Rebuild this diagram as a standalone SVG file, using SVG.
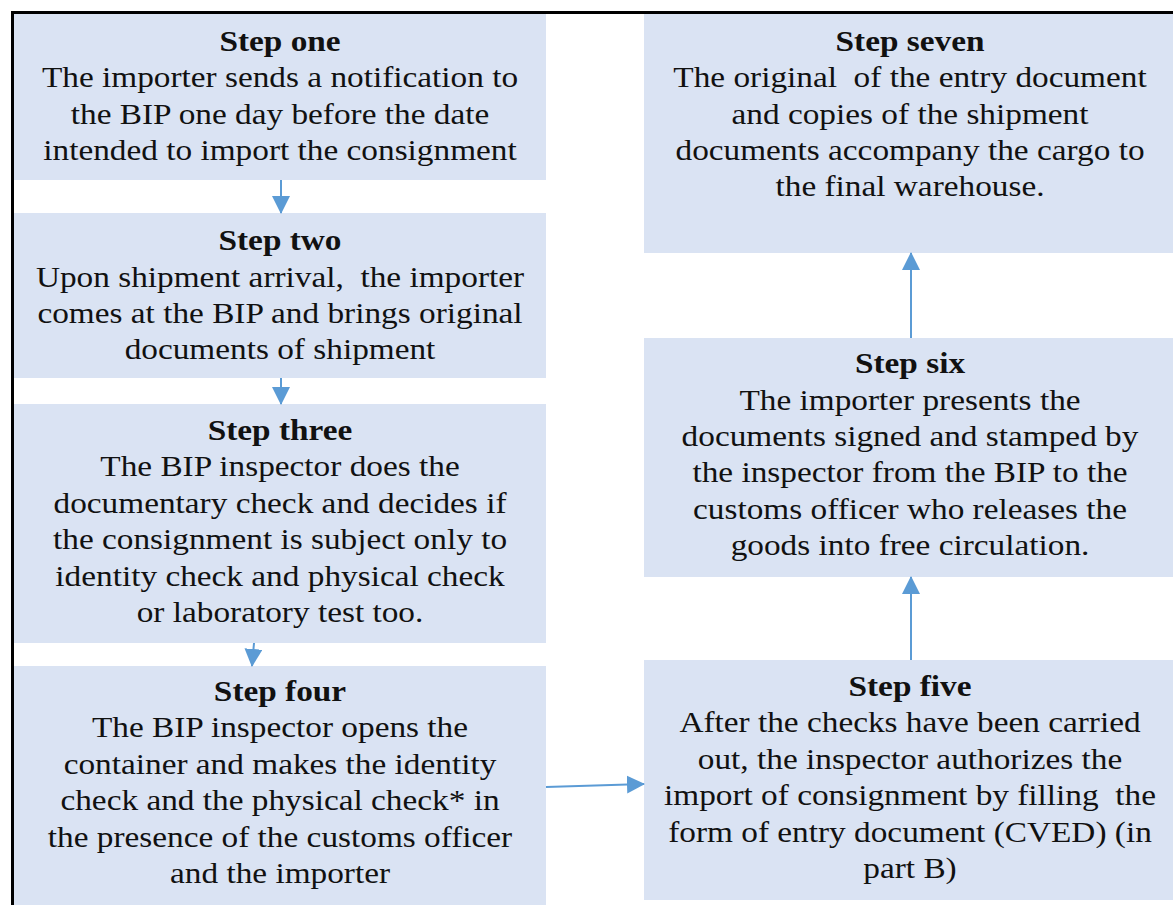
<svg xmlns="http://www.w3.org/2000/svg" width="1173" height="905" viewBox="0 0 1173 905">
<style>
.box{fill:#dae3f3}
text{font-family:"Liberation Serif","Times New Roman",serif;font-size:30px;fill:#111;text-anchor:middle}
.t{font-weight:bold}
.conn line{stroke:#5b9bd5;stroke-width:2}
</style>
<defs>
<marker id="ah" viewBox="0 0 10 10" refX="9" refY="5" markerWidth="5.5" markerHeight="5.5" markerUnits="userSpaceOnUse" orient="auto">
<path d="M0,0 L10,5 L0,10 z" fill="#5b9bd5"/>
</marker>
<marker id="a" viewBox="0 0 18 18" refX="17" refY="9" markerWidth="18" markerHeight="18" markerUnits="userSpaceOnUse" orient="auto">
<path d="M0,0 L18,9 L0,18 z" fill="#5b9bd5"/>
</marker>
</defs>
<rect width="1173" height="905" fill="#fff"/>
<g id="step1">
<rect class="box" x="14" y="14" width="532" height="166"/>
<g transform="translate(280,0) scale(1.11,1)">
<text class="t" x="0" y="51">Step one</text>
<text x="0" y="87">The importer sends a notification to</text>
<text x="0" y="124">the BIP one day before the date</text>
<text x="0" y="160">intended to import the consignment</text>
</g>
</g>
<g id="step2">
<rect class="box" x="14" y="213" width="532" height="165"/>
<g transform="translate(280,0) scale(1.11,1)">
<text class="t" x="0" y="250">Step two</text>
<text x="0" y="287" xml:space="preserve">Upon shipment arrival,  the importer</text>
<text x="0" y="323">comes at the BIP and brings original</text>
<text x="0" y="359">documents of shipment</text>
</g>
</g>
<g id="step3">
<rect class="box" x="14" y="404" width="532" height="239"/>
<g transform="translate(280,0) scale(1.11,1)">
<text class="t" x="0" y="440">Step three</text>
<text x="0" y="476">The BIP inspector does the</text>
<text x="0" y="513">documentary check and decides if</text>
<text x="0" y="549">the consignment is subject only to</text>
<text x="0" y="586">identity check and physical check</text>
<text x="0" y="622">or laboratory test too.</text>
</g>
</g>
<g id="step4">
<rect class="box" x="14" y="666" width="532" height="239"/>
<g transform="translate(280,0) scale(1.11,1)">
<text class="t" x="0" y="701">Step four</text>
<text x="0" y="737">The BIP inspector opens the</text>
<text x="0" y="774">container and makes the identity</text>
<text x="0" y="810">check and the physical check* in</text>
<text x="0" y="847">the presence of the customs officer</text>
<text x="0" y="883">and the importer</text>
</g>
</g>
<g id="step5">
<rect class="box" x="644" y="660" width="529" height="240"/>
<g transform="translate(910,0) scale(1.11,1)">
<text class="t" x="0" y="696">Step five</text>
<text x="0" y="732">After the checks have been carried</text>
<text x="0" y="769">out, the inspector authorizes the</text>
<text x="0" y="805" xml:space="preserve">import of consignment by filling  the</text>
<text x="0" y="842">form of entry document (CVED) (in</text>
<text x="0" y="878">part B)</text>
</g>
</g>
<g id="step6">
<rect class="box" x="644" y="338" width="529" height="239"/>
<g transform="translate(910,0) scale(1.11,1)">
<text class="t" x="0" y="373">Step six</text>
<text x="0" y="410">The importer presents the</text>
<text x="0" y="446">documents signed and stamped by</text>
<text x="0" y="482">the inspector from the BIP to the</text>
<text x="0" y="519">customs officer who releases the</text>
<text x="0" y="555">goods into free circulation.</text>
</g>
</g>
<g id="step7">
<rect class="box" x="644" y="14" width="529" height="239"/>
<g transform="translate(910,0) scale(1.11,1)">
<text class="t" x="0" y="51">Step seven</text>
<text x="0" y="87" xml:space="preserve">The original  of the entry document</text>
<text x="0" y="124">and copies of the shipment</text>
<text x="0" y="160">documents accompany the cargo to</text>
<text x="0" y="196">the final warehouse.</text>
</g>
</g>
<g id="connectors" class="conn">
<line x1="281" y1="180" x2="281" y2="213" marker-end="url(#a)"/>
<line x1="281" y1="378" x2="281" y2="404" marker-end="url(#a)"/>
<line x1="254" y1="643" x2="252" y2="666" marker-end="url(#a)"/>
<line x1="546" y1="787" x2="644" y2="784" marker-end="url(#a)"/>
<line x1="911" y1="660" x2="911" y2="577" marker-end="url(#a)"/>
<line x1="911" y1="338" x2="911" y2="253" marker-end="url(#a)"/>
</g>
<path d="M12.5,905 V12.5 H1173" fill="none" stroke="#000" stroke-width="3"/>
</svg>
